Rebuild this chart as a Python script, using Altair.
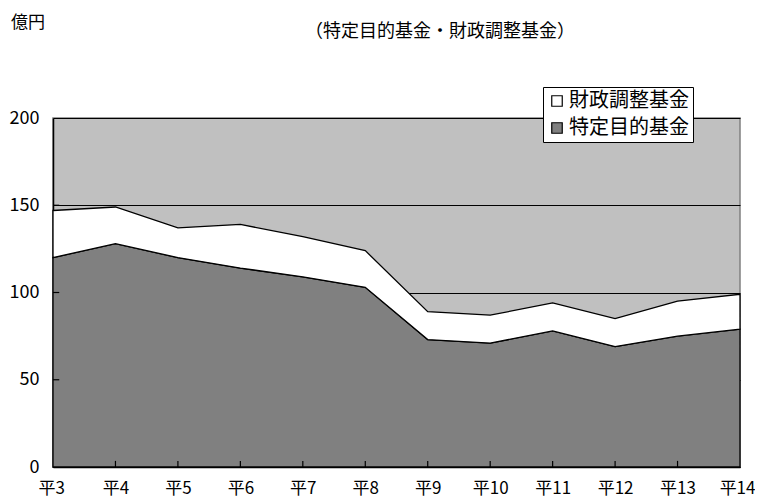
import altair as alt
import pandas as pd

years = ["平3", "平4", "平5", "平6", "平7", "平8", "平9", "平10", "平11", "平12", "平13", "平14"]
tokutei = [120, 128, 120, 114, 109, 103, 73, 71, 78, 69, 75, 79]
zaisei = [27, 21, 17, 25, 23, 21, 16, 16, 16, 16, 20, 20]
series = ["財政調整基金", "特定目的基金"]
y_ticks = [0, 50, 100, 150, 200]

FONT = "Noto Sans CJK JP"

rows = []
for i, y in enumerate(years):
    rows.append({"i": i, "year": y, "series": "特定目的基金", "v": tokutei[i], "ord": 0})
    rows.append({"i": i, "year": y, "series": "財政調整基金", "v": zaisei[i], "ord": 1})
df = pd.DataFrame(rows)

label_expr = "[" + ",".join("'" + y + "'" for y in years) + "][datum.value]"

x_scale = alt.Scale(domain=[0, len(years) - 1], nice=False, zero=False)
y_scale = alt.Scale(domain=[0, 200], nice=False)

area = alt.Chart(df).mark_area(stroke="black", strokeWidth=1.3, strokeJoin="miter").encode(
    x=alt.X("i:Q", scale=x_scale, title=None,
            axis=alt.Axis(values=list(range(len(years))), labelExpr=label_expr, ticks=False,
                          grid=False, domainColor="black", domainWidth=1.5,
                          labelFontSize=17, labelFont=FONT, labelColor="black",
                          labelPadding=13, labelFlush=True, labelFlushOffset=15,
                          labelOverlap=False)),
    y=alt.Y("v:Q", stack="zero", scale=y_scale, title=None,
            axis=alt.Axis(values=y_ticks, ticks=False, grid=True, gridColor="black",
                          gridWidth=1, domainColor="black", domainWidth=1.5,
                          labelFontSize=18, labelFont=FONT, labelColor="black",
                          labelPadding=14, labelFlush=False)),
    color=alt.Color("series:N", scale=alt.Scale(domain=series, range=["#FFFFFF", "#808080"]),
                    legend=alt.Legend(title=None, orient="none", legendX=490, legendY=-31,
                                      fillColor="white", strokeColor="black", padding=4,
                                      labelFontSize=20, labelFont=FONT, labelColor="black",
                                      symbolType="square", symbolSize=110,
                                      symbolStrokeColor="black", symbolStrokeWidth=1.2,
                                      rowPadding=7, labelLimit=300, labelOffset=2)),
    order=alt.Order("ord:Q"),
)

xt = pd.DataFrame({"i": list(range(1, len(years) - 1))})
xticks = alt.Chart(xt).mark_rule(color="black", strokeWidth=1.2).encode(
    x=alt.X("i:Q", scale=x_scale), y=alt.datum(0), y2=alt.datum(3.5)
)
yt = pd.DataFrame({"v": [50, 100, 150]})
yticks = alt.Chart(yt).mark_rule(color="black", strokeWidth=1.2).encode(
    y=alt.Y("v:Q", scale=y_scale), x=alt.datum(0), x2=alt.datum(0.1)
)

unit = alt.Chart(pd.DataFrame({"t": ["億円"]})).mark_text(
    font=FONT, fontSize=17, color="black", align="center", baseline="middle"
).encode(x=alt.value(-25), y=alt.value(-95), text="t:N")

sub = alt.Chart(pd.DataFrame({"t": ["（特定目的基金・財政調整基金）"]})).mark_text(
    font=FONT, fontSize=18, color="black", align="center", baseline="middle"
).encode(x=alt.value(387), y=alt.value(-86), text="t:N")

chart = alt.layer(area, xticks, yticks, unit, sub).properties(
    width=687, height=349,
    autosize=alt.AutoSizeParams(type="none"),
    padding={"left": 45, "top": 110, "right": 15, "bottom": 40},
).configure_view(fill="#C0C0C0", stroke="#808080", strokeWidth=1.5)

chart.save("out.html", embed_options={"renderer": "svg", "actions": False})
